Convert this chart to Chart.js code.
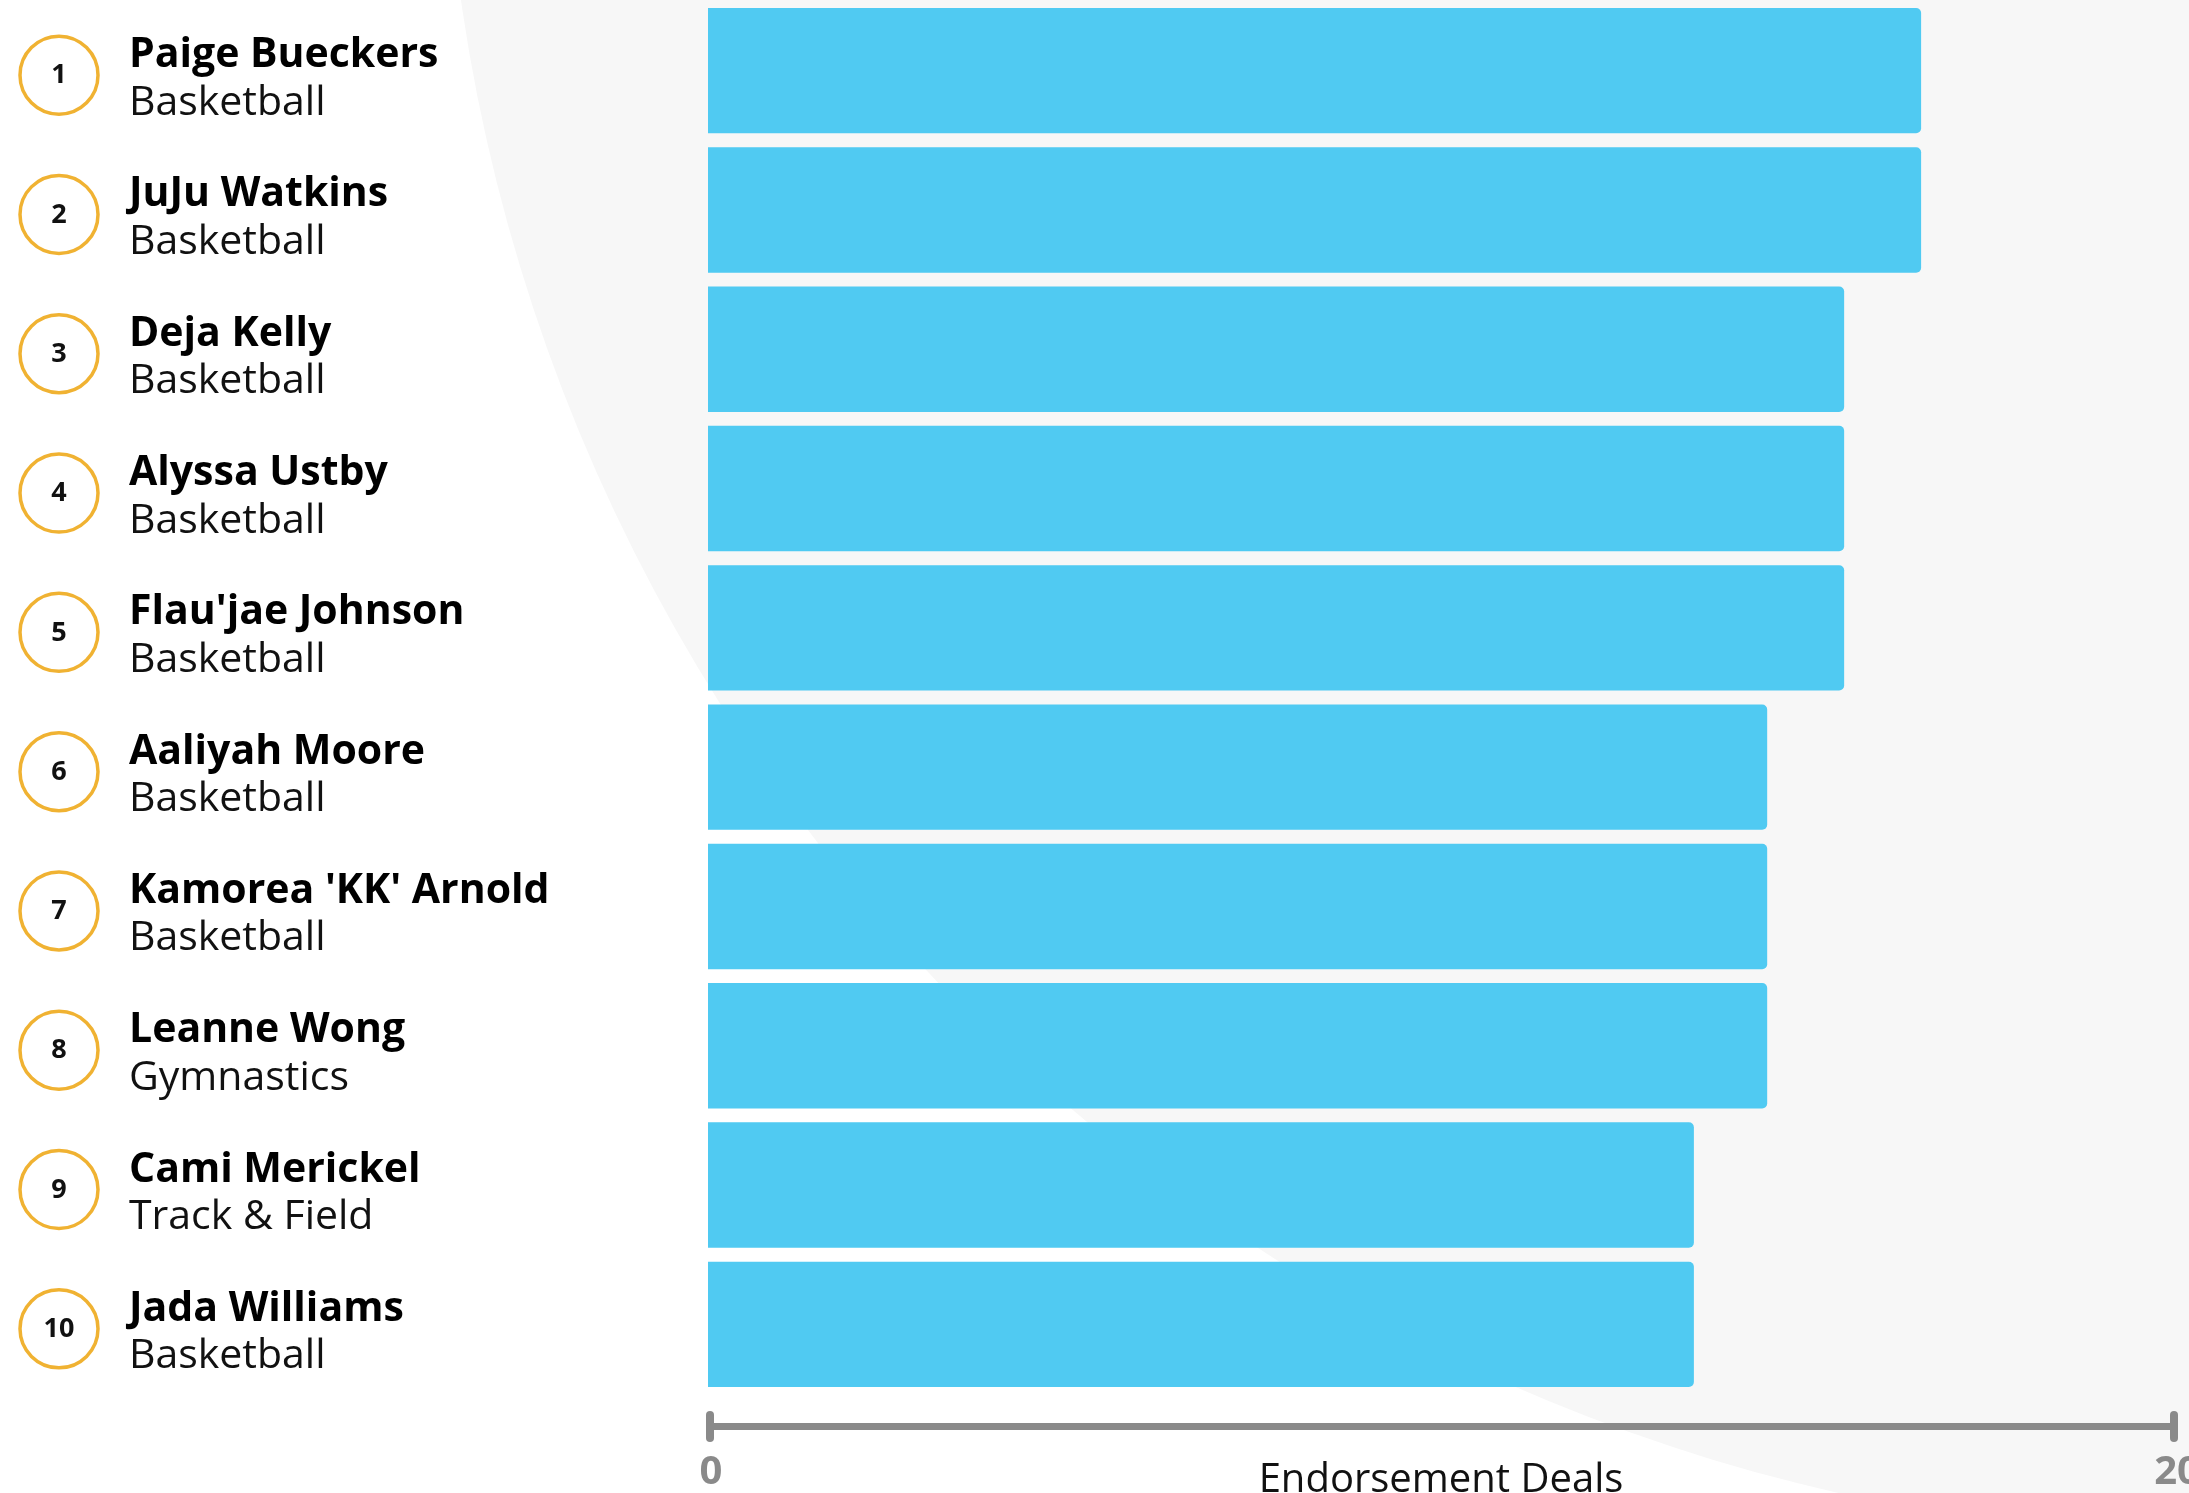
<!DOCTYPE html>
<html>
<head>
<meta charset="utf-8">
<title>Endorsement Deals</title>
<script src="https://cdn.jsdelivr.net/npm/chart.js@4.4.1/dist/chart.umd.min.js"></script>
<style>
  html, body { margin: 0; padding: 0; background: #fff; overflow: hidden; }
  canvas { display: block; }
</style>
</head>
<body>
<canvas id="chart" width="2189" height="1493"></canvas>
<script>
// Top ten athletes by number of endorsement deals
const athletes = ['Paige Bueckers', 'JuJu Watkins', 'Deja Kelly', 'Alyssa Ustby', "Flau'jae Johnson",
                  'Aaliyah Moore', "Kamorea 'KK' Arnold", 'Leanne Wong', 'Cami Merickel', 'Jada Williams'];
const sports = ['Basketball', 'Basketball', 'Basketball', 'Basketball', 'Basketball',
                'Basketball', 'Basketball', 'Gymnastics', 'Track & Field', 'Basketball'];
const ranks = ['1', '2', '3', '4', '5', '6', '7', '8', '9', '10'];
const deals = [16.55, 16.55, 15.5, 15.5, 15.5, 14.45, 14.45, 14.45, 13.45, 13.45];
const axisTicks = [0, 20];
const axisTitle = 'Endorsement Deals';

const FONT = "'Open Sans', 'Noto Sans', sans-serif";
const GREY = '#8a8a8a';

// Page background: white with a large pale arc sweeping in from the top right
const backdrop = {
  id: 'backdrop',
  beforeDraw(chart) {
    const { ctx, width, height } = chart;
    ctx.save();
    ctx.fillStyle = '#ffffff';
    ctx.fillRect(0, 0, width, height);
    ctx.beginPath();
    ctx.arc(2233, -253, 1790, 0, Math.PI * 2);
    ctx.fillStyle = '#f7f7f7';
    ctx.fill();
    ctx.restore();
  }
};

// Thick baseline with rounded end ticks under the bars
const baseline = {
  id: 'baseline',
  afterDraw(chart) {
    const { ctx, chartArea } = chart;
    const xs = chart.scales.x;
    const x0 = xs.getPixelForValue(axisTicks[0]) + 2;
    const x1 = xs.getPixelForValue(axisTicks[axisTicks.length - 1]);
    const y = chartArea.bottom + 32.5;
    ctx.save();
    ctx.strokeStyle = GREY;
    ctx.lineWidth = 7;
    ctx.beginPath();
    ctx.moveTo(x0, y);
    ctx.lineTo(x1, y);
    ctx.stroke();
    ctx.lineWidth = 8;
    ctx.lineCap = 'round';
    [x0, x1].forEach(x => {
      ctx.beginPath();
      ctx.moveTo(x, y - 11.5);
      ctx.lineTo(x, y + 11.5);
      ctx.stroke();
    });
    ctx.restore();
  }
};

// Rank badge, athlete name and sport beside each bar
const rowLabels = {
  id: 'rowLabels',
  afterDraw(chart) {
    const { ctx } = chart;
    const ys = chart.scales.y;
    ctx.save();
    athletes.forEach((name, i) => {
      const yc = ys.getPixelForValue(i);
      ctx.beginPath();
      ctx.arc(59, yc + 4.5, 39, 0, Math.PI * 2);
      ctx.strokeStyle = '#f0b232';
      ctx.lineWidth = 3.5;
      ctx.stroke();

      ctx.fillStyle = '#111111';
      ctx.textAlign = 'center';
      ctx.textBaseline = 'middle';
      ctx.font = `bold 27px ${FONT}`;
      ctx.fillText(ranks[i], 59, yc + 5);

      ctx.textAlign = 'left';
      ctx.textBaseline = 'alphabetic';
      ctx.fillStyle = '#000000';
      ctx.font = `bold 41px ${FONT}`;
      ctx.fillText(name, 129, yc - 3.5);

      ctx.fillStyle = '#111111';
      ctx.font = `41px ${FONT}`;
      ctx.fillText(sports[i], 129, yc + 44);
    });
    ctx.restore();
  }
};

new Chart(document.getElementById('chart'), {
  type: 'bar',
  data: {
    labels: athletes,
    datasets: [{
      data: deals,
      backgroundColor: '#50caf2',
      borderRadius: 5,
      barPercentage: 0.9,
      categoryPercentage: 1
    }]
  },
  options: {
    indexAxis: 'y',
    responsive: false,
    animation: false,
    devicePixelRatio: 1,
    layout: { padding: { top: 1, right: 15, left: 0, bottom: 0 } },
    plugins: { legend: { display: false }, tooltip: { enabled: false } },
    scales: {
      x: {
        type: 'linear',
        position: 'bottom',
        min: axisTicks[0],
        max: axisTicks[axisTicks.length - 1],
        grid: { display: false, drawTicks: false },
        border: { display: false },
        afterBuildTicks: s => { s.ticks = axisTicks.map(v => ({ value: v })); },
        ticks: {
          autoSkip: false,
          maxRotation: 0,
          padding: 55,
          color: GREY,
          font: { family: FONT, weight: 'bold', size: 40 },
          labelOffset: 3
        },
        title: {
          display: true,
          text: axisTitle,
          color: '#111111',
          padding: 0,
          font: { family: FONT, size: 40, lineHeight: 0.6 }
        },
        afterFit: s => { s.height = 99; s.paddingLeft = 0; s.paddingRight = 0; }
      },
      y: {
        grid: { display: false, drawTicks: false },
        border: { display: false },
        ticks: { display: false },
        afterFit: s => { s.width = 708; s.paddingTop = 0; s.paddingBottom = 0; }
      }
    }
  },
  plugins: [backdrop, baseline, rowLabels]
});
</script>
</body>
</html>
